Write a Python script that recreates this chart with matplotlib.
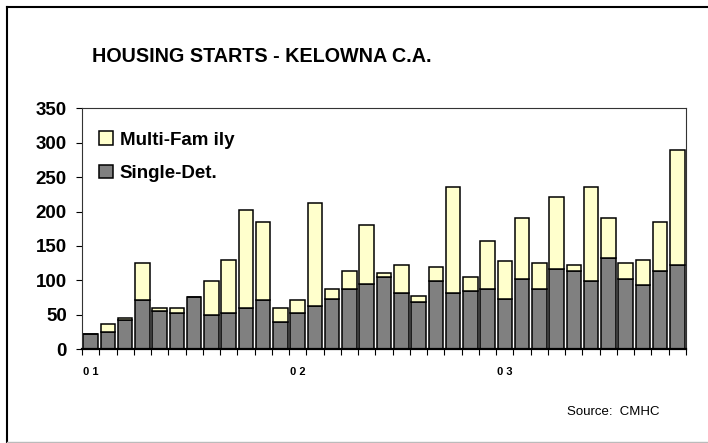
import numpy as np
import matplotlib
matplotlib.use("Agg")
import matplotlib.pyplot as plt
from matplotlib.lines import Line2D
from matplotlib.patches import Patch

# ======= Data: monthly starts, Jan 2001 - Nov 2003 =======
single_det = [22, 25, 42, 71, 56, 53, 76, 50, 53, 59, 71, 39,
              53, 62, 73, 87, 94, 105, 82, 68, 99, 82, 85, 87,
              73, 102, 87, 117, 113, 99, 133, 102, 93, 113, 122]
total = [22, 36, 45, 125, 59, 59, 76, 99, 130, 202, 185, 59,
         71, 213, 87, 114, 180, 111, 122, 77, 119, 236, 105, 157,
         128, 191, 125, 221, 122, 236, 191, 125, 130, 185, 290]
multi_family = [t - s for t, s in zip(total, single_det)]
year_labels = ["0 1", "0 2", "0 3"]
year_pos = [0, 12, 24]

plt.rcParams["font.family"] = ["Liberation Sans", "DejaVu Sans"]

fig = plt.figure(figsize=(7.08, 4.43), dpi=100)
ax = fig.add_axes([82 / 708, 1 - 349 / 443, 604 / 708, 240.5 / 443])

x = np.arange(len(single_det))
ax.bar(x, single_det, width=0.84, color="#808080", edgecolor="black", linewidth=1.1)
ax.bar(x, multi_family, width=0.84, bottom=single_det, color="#FFFFCC",
       edgecolor="black", linewidth=1.1)

ax.set_xlim(-0.5, len(x) - 0.5)
ax.set_ylim(0, 350)
ax.set_yticks(range(0, 351, 50))
ax.tick_params(axis="y", labelsize=13.5, length=4, width=0.8, pad=7)
for lab in ax.get_yticklabels():
    lab.set_fontweight("bold")

ax.set_xticks(year_pos)
ax.set_xticklabels(year_labels, fontsize=8, fontweight="bold")
ax.tick_params(axis="x", which="major", length=0, pad=13)
ax.set_xticks(np.arange(-0.5, len(x)), minor=True)
ax.tick_params(axis="x", which="minor", length=4, width=0.8, direction="out")

for side in ["top", "right", "left"]:
    ax.spines[side].set_linewidth(0.8)
    ax.spines[side].set_color("#333333")
ax.spines["bottom"].set_linewidth(1.6)

handles = [Patch(facecolor="#FFFFCC", edgecolor="black", linewidth=1.1),
           Patch(facecolor="#808080", edgecolor="black", linewidth=1.1)]
ax.legend(handles, ["Multi-Fam ily", "Single-Det."], loc="upper left",
          bbox_to_anchor=(0.0, 0.975), frameon=False, handlelength=0.75,
          handleheight=0.75, handletextpad=0.35, labelspacing=0.85,
          prop={"weight": "bold", "size": 13.5})

fig.text(262 / 708, 1 - 57 / 443, "HOUSING STARTS - KELOWNA C.A.",
         ha="center", va="center", fontsize=14.2, fontweight="bold")
fig.text(613 / 708, 1 - 412 / 443, "Source:  CMHC", ha="center", va="center",
         fontsize=9.5)

# outer frame
fig.add_artist(Line2D([7 / 708, 7 / 708], [1 - 7 / 443, 1 - 442 / 443],
                      color="black", linewidth=1.5))
fig.add_artist(Line2D([7 / 708, 1.0], [1 - 7 / 443, 1 - 7 / 443],
                      color="black", linewidth=1.5))
fig.add_artist(Line2D([7 / 708, 1.0], [1 - 441.5 / 443, 1 - 441.5 / 443],
                      color="#BBBBBB", linewidth=1.0))

fig.savefig("out.png", dpi=100)
